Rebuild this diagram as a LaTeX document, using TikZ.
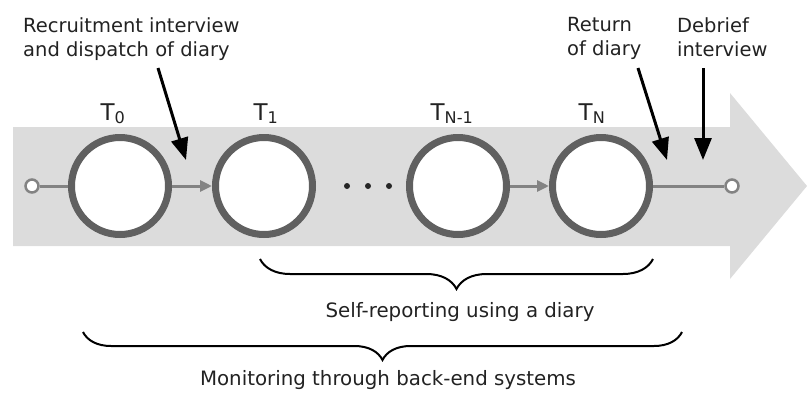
\documentclass[tikz,border=0pt]{standalone}
\usepackage{fontspec}
\setmainfont{DejaVu Sans}
\usetikzlibrary{arrows.meta,decorations.pathreplacing}
\definecolor{bandgrey}{HTML}{DCDCDC}
\definecolor{ringgrey}{HTML}{606060}
\definecolor{linkgrey}{HTML}{838383}
\definecolor{inkgrey}{HTML}{222222}

\begin{document}
\begin{tikzpicture}[x=1pt,y=-1pt,
  stage/.style={circle,draw=ringgrey,line width=7pt,fill=white,minimum size=97pt,inner sep=0pt},
  endpt/.style={circle,draw=linkgrey,line width=2.5pt,fill=white,minimum size=13pt,inner sep=0pt},
  link/.style={draw=linkgrey,line width=3pt},
  pointer/.style={line width=3pt,-{Triangle[length=22pt,width=17pt]}},
  tlabel/.style={anchor=base,text=inkgrey,font=\fontsize{23}{26}\selectfont},
  note/.style={anchor=north west,align=left,inner sep=0pt,text=inkgrey,font=\fontsize{19.5}{24}\selectfont},
  caption/.style={anchor=base,inner sep=0pt,text=inkgrey,font=\fontsize{19.8}{24}\selectfont},
  bracket/.style={decorate,decoration={brace,amplitude=#1},line width=2pt}]
\useasboundingbox (0,0) rectangle (807,392);

% the grey band with its head
\fill[bandgrey] (13,127) -- (730,127) -- (730,93) -- (807,186)
  -- (730,279) -- (730,246) -- (13,246) -- cycle;

% stages
\node[stage] (t0) at (120,186) {};
\node[stage] (t1) at (264,186) {};
\node[stage] (tn1) at (458,186) {};
\node[stage] (tn) at (601,186) {};
\node[endpt] (start) at (32,186) {};
\node[endpt] (stop) at (732,186) {};

\draw[link] (start) -- (t0);
\draw[link,-{Triangle[length=12pt,width=11pt]}] (t0) -- (t1);
\draw[link,-{Triangle[length=12pt,width=11pt]}] (tn1) -- (tn);
\draw[link] (tn) -- (stop);

\foreach \x in {347,368,389}
  \fill[black!85] (\x,186) circle (3);

\node[tlabel] (l0) at (113,120) {T\textsubscript{0}};
\node[tlabel] (l1) at (266,120) {T\textsubscript{1}};
\node[tlabel] (ln1) at (452,120) {T\textsubscript{N-1}};
\node[tlabel] (ln) at (592,120) {T\textsubscript{N}};

% events
\node[note] (recruit) at (23,17) {Recruitment interview\\and dispatch of diary};
\node[note] (return) at (567,17) {Return\\of diary};
\node[note] (debrief) at (677,17) {Debrief\\interview};

\coordinate (a0) at (158,68);
\coordinate (a1) at (186,160);
\coordinate (b0) at (638,68);
\coordinate (b1) at (667,160);
\coordinate (c0) at (703,68);
\coordinate (c1) at (703,160);
\draw[pointer] (a0) -- (a1);
\draw[pointer] (b0) -- (b1);
\draw[pointer] (c0) -- (c1);

% spans
\coordinate (s0) at (653,259);
\coordinate (s1) at (260,259);
\coordinate (m0) at (682,332);
\coordinate (m1) at (83,332);
\draw[bracket=30pt] (s0) -- (s1);
\draw[bracket=28pt] (m0) -- (m1);

\node[caption] (self) at (460,317) {Self-reporting using a diary};
\node[caption] (monitor) at (388,385) {Monitoring through back-end systems};
\end{tikzpicture}
\end{document}
